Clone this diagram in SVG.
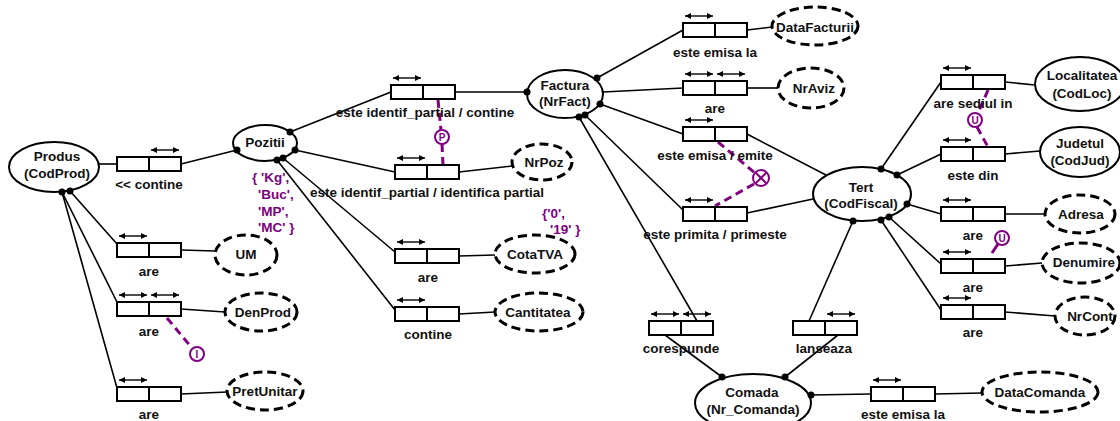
<svg xmlns="http://www.w3.org/2000/svg" width="1120" height="421" viewBox="0 0 1120 421">
<defs>
<marker id="ah" viewBox="0 0 8 8" refX="8" refY="4" markerWidth="6" markerHeight="6" markerUnits="userSpaceOnUse" orient="auto-start-reverse"><path d="M0,0 L8,4 L0,8 z" fill="#000"/></marker>
<style>
.ent{fill:#fff;stroke:#000;stroke-width:2}
.val{fill:#fff;stroke:#000;stroke-width:3;stroke-dasharray:9 5}
.box{fill:#fff;stroke:#000;stroke-width:2}
.ln{stroke:#000;stroke-width:1.6;fill:none}
.uq{stroke:#000;stroke-width:1.4;marker-start:url(#ah);marker-end:url(#ah)}
.dot{fill:#000}
.t{font-family:"Liberation Sans",Arial,sans-serif;font-weight:bold;font-size:13.5px;fill:#111;text-anchor:middle}
.pt{font-family:"Liberation Sans",Arial,sans-serif;font-weight:bold;font-size:13.5px;fill:#800080}
.cons{stroke:#800080;stroke-width:3;stroke-dasharray:8 5;fill:none}
.cc{fill:#fff;stroke:#800080;stroke-width:2}
.ct{font-family:"Liberation Sans",Arial,sans-serif;font-weight:bold;font-size:10px;fill:#800080;text-anchor:middle}
</style>
</defs>

<g id="connectors">
<line class="ln" x1="99" y1="164" x2="117" y2="164"/>
<line class="ln" x1="181" y1="164" x2="237" y2="150"/>
<line class="ln" x1="62" y1="192" x2="117" y2="388"/>
<line class="ln" x1="62" y1="192" x2="117" y2="302"/>
<line class="ln" x1="70" y1="191" x2="117" y2="244"/>
<line class="ln" x1="181" y1="250" x2="215" y2="251"/>
<line class="ln" x1="181" y1="309" x2="225" y2="312"/>
<line class="ln" x1="181" y1="394" x2="227" y2="392"/>
<line class="ln" x1="290" y1="132" x2="391" y2="92"/>
<line class="ln" x1="295" y1="150" x2="395" y2="172"/>
<line class="ln" x1="283" y1="158" x2="395" y2="252"/>
<line class="ln" x1="277" y1="160" x2="395" y2="310"/>
<line class="ln" x1="455" y1="92" x2="527" y2="92"/>
<line class="ln" x1="459" y1="172" x2="512" y2="166"/>
<line class="ln" x1="459" y1="256" x2="495" y2="255"/>
<line class="ln" x1="459" y1="314" x2="495" y2="312"/>
<line class="ln" x1="597" y1="78" x2="683" y2="30"/>
<line class="ln" x1="603" y1="92" x2="683" y2="88"/>
<line class="ln" x1="600" y1="104" x2="683" y2="134"/>
<line class="ln" x1="585" y1="115" x2="683" y2="210"/>
<line class="ln" x1="579" y1="117" x2="697" y2="321"/>
<line class="ln" x1="747" y1="30" x2="772" y2="27"/>
<line class="ln" x1="747" y1="88" x2="778" y2="88"/>
<line class="ln" x1="747" y1="134" x2="826" y2="175"/>
<line class="ln" x1="747" y1="213" x2="813" y2="199"/>
<line class="ln" x1="881" y1="169" x2="941" y2="82"/>
<line class="ln" x1="897" y1="175" x2="941" y2="154"/>
<line class="ln" x1="907" y1="204" x2="941" y2="214"/>
<line class="ln" x1="889" y1="217" x2="941" y2="264"/>
<line class="ln" x1="881" y1="220" x2="941" y2="310"/>
<line class="ln" x1="853" y1="221" x2="809" y2="321"/>
<line class="ln" x1="838" y1="335" x2="785" y2="377"/>
<line class="ln" x1="665" y1="335" x2="722" y2="377"/>
<line class="ln" x1="811" y1="395" x2="871" y2="394"/>
<line class="ln" x1="935" y1="394" x2="982" y2="393"/>
<line class="ln" x1="1005" y1="82" x2="1035" y2="85"/>
<line class="ln" x1="1005" y1="154" x2="1040" y2="151"/>
<line class="ln" x1="1005" y1="214" x2="1045" y2="214"/>
<line class="ln" x1="1005" y1="266" x2="1042" y2="263"/>
<line class="ln" x1="1005" y1="312" x2="1055" y2="316"/>
</g>

<g id="constraints">
<line class="cons" x1="438" y1="100" x2="441" y2="130"/>
<line class="cons" x1="442" y1="144" x2="443" y2="165"/>
<circle class="cc" cx="442" cy="137" r="7"/>
<text class="ct" x="442" y="141">P</text>
<line class="cons" x1="167" y1="318" x2="192" y2="348"/>
<circle class="cc" cx="197" cy="354" r="7"/>
<text class="ct" x="197" y="358">I</text>
<line class="cons" x1="718" y1="142" x2="755" y2="173"/>
<line class="cons" x1="754" y1="184" x2="715" y2="206"/>
<circle class="cc" cx="761" cy="178" r="8"/>
<line x1="755.5" y1="172.5" x2="766.5" y2="183.5" stroke="#800080" stroke-width="2"/>
<line x1="766.5" y1="172.5" x2="755.5" y2="183.5" stroke="#800080" stroke-width="2"/>
<line class="cons" x1="988" y1="90" x2="978" y2="113"/>
<line class="cons" x1="977" y1="127" x2="988" y2="147"/>
<circle class="cc" cx="975" cy="120" r="7"/>
<text class="ct" x="975" y="124">U</text>
<line x1="992" y1="253" x2="998" y2="244" stroke="#800080" stroke-width="3"/>
<circle class="cc" cx="1002" cy="238" r="7"/>
<text class="ct" x="1002" y="242">U</text>
<text class="pt" x="252" y="182">{ 'Kg',</text>
<text class="pt" x="258" y="199">'Buc',</text>
<text class="pt" x="258" y="216">'MP',</text>
<text class="pt" x="258" y="232">'MC' }</text>
<text class="pt" x="542" y="218">{'0',</text>
<text class="pt" x="550" y="234">'19' }</text>
</g>

<g id="Produs"><ellipse class="ent" cx="54" cy="167" rx="45" ry="25"/><text class="t" x="57" y="161">Produs</text><text class="t" x="57" y="178">(CodProd)</text><circle class="dot" cx="62" cy="192" r="3.5"/><circle class="dot" cx="70" cy="191" r="3.5"/></g>
<g id="Pozitii"><ellipse class="ent" cx="265" cy="143" rx="32" ry="18"/><text class="t" x="265" y="147">Pozitii</text><circle class="dot" cx="237" cy="150" r="3.5"/><circle class="dot" cx="290" cy="132" r="3.5"/><circle class="dot" cx="295" cy="150" r="3.5"/><circle class="dot" cx="283" cy="158" r="3.5"/><circle class="dot" cx="277" cy="160" r="3.5"/></g>
<g id="Factura"><ellipse class="ent" cx="565" cy="94" rx="38" ry="24"/><text class="t" x="565" y="90">Factura</text><text class="t" x="565" y="106">(NrFact)</text><circle class="dot" cx="527" cy="92" r="3.5"/><circle class="dot" cx="597" cy="78" r="3.5"/><circle class="dot" cx="600" cy="104" r="3.5"/><circle class="dot" cx="585" cy="115" r="3.5"/><circle class="dot" cx="579" cy="117" r="3.5"/></g>
<g id="Tert"><ellipse class="ent" cx="862" cy="194" rx="49" ry="27"/><text class="t" x="861" y="192">Tert</text><text class="t" x="861" y="208">(CodFiscal)</text><circle class="dot" cx="881" cy="169" r="3.5"/><circle class="dot" cx="897" cy="175" r="3.5"/><circle class="dot" cx="907" cy="204" r="3.5"/><circle class="dot" cx="889" cy="217" r="3.5"/><circle class="dot" cx="881" cy="220" r="3.5"/><circle class="dot" cx="853" cy="221" r="3.5"/></g>
<g id="Comada"><ellipse class="ent" cx="753" cy="403" rx="58" ry="29"/><text class="t" x="752" y="397">Comada</text><text class="t" x="753" y="414">(Nr_Comanda)</text><circle class="dot" cx="722" cy="377" r="3.5"/><circle class="dot" cx="785" cy="377" r="3.5"/><circle class="dot" cx="811" cy="395" r="3.5"/></g>
<g id="Localitatea"><ellipse class="ent" cx="1080" cy="84" rx="45" ry="27"/><text class="t" x="1082" y="80">Localitatea</text><text class="t" x="1082" y="98">(CodLoc)</text></g>
<g id="Judetul"><ellipse class="ent" cx="1080" cy="152" rx="40" ry="25"/><text class="t" x="1080" y="148">Judetul</text><text class="t" x="1080" y="165">(CodJud)</text></g>

<g id="UM"><ellipse class="val" cx="246" cy="255" rx="31" ry="20"/><text class="t" x="246" y="259">UM</text></g>
<g id="DenProd"><ellipse class="val" cx="261" cy="312" rx="36" ry="19"/><text class="t" x="263" y="317">DenProd</text></g>
<g id="PretUnitar"><ellipse class="val" cx="265" cy="391" rx="38" ry="19"/><text class="t" x="265" y="396">PretUnitar</text></g>
<g id="NrPoz"><ellipse class="val" cx="542" cy="162" rx="30" ry="18"/><text class="t" x="544" y="167">NrPoz</text></g>
<g id="CotaTVA"><ellipse class="val" cx="535" cy="254" rx="40" ry="19"/><text class="t" x="535" y="259">CotaTVA</text></g>
<g id="Cantitatea"><ellipse class="val" cx="539" cy="312" rx="44" ry="19"/><text class="t" x="538" y="317">Cantitatea</text></g>
<g id="DataFacturii"><ellipse class="val" cx="815" cy="26" rx="43" ry="19"/><text class="t" x="815" y="32">DataFacturii</text></g>
<g id="NrAviz"><ellipse class="val" cx="811" cy="88" rx="33" ry="20"/><text class="t" x="814" y="93">NrAviz</text></g>
<g id="Adresa"><ellipse class="val" cx="1080" cy="214" rx="35" ry="19"/><text class="t" x="1081" y="219">Adresa</text></g>
<g id="Denumire"><ellipse class="val" cx="1081" cy="263" rx="39" ry="20"/><text class="t" x="1084" y="267">Denumire</text></g>
<g id="NrCont"><ellipse class="val" cx="1085" cy="316" rx="30" ry="19"/><text class="t" x="1090" y="321">NrCont</text></g>
<g id="DataComanda"><ellipse class="val" cx="1040" cy="392" rx="58" ry="20"/><text class="t" x="1040" y="397">DataComanda</text></g>

<g id="f_contine"><rect class="box" x="117" y="157" width="32" height="14"/><rect class="box" x="149" y="157" width="32" height="14"/><line class="uq" x1="151" y1="150" x2="179" y2="150"/><text class="t" x="149" y="189">&lt;&lt; contine</text></g>
<g id="f_um"><rect class="box" x="117" y="243" width="32" height="14"/><rect class="box" x="149" y="243" width="32" height="14"/><line class="uq" x1="119" y1="236" x2="147" y2="236"/><text class="t" x="149" y="276">are</text></g>
<g id="f_denprod"><rect class="box" x="117" y="302" width="32" height="14"/><rect class="box" x="149" y="302" width="32" height="14"/><line class="uq" x1="119" y1="295" x2="147" y2="295"/><line class="uq" x1="151" y1="295" x2="179" y2="295"/><text class="t" x="149" y="336">are</text></g>
<g id="f_pret"><rect class="box" x="117" y="387" width="32" height="14"/><rect class="box" x="149" y="387" width="32" height="14"/><line class="uq" x1="119" y1="380" x2="147" y2="380"/><text class="t" x="149" y="419">are</text></g>
<g id="f_identif1"><rect class="box" x="391" y="85" width="32" height="14"/><rect class="box" x="423" y="85" width="32" height="14"/><line class="uq" x1="393" y1="78" x2="421" y2="78"/><text class="t" x="425" y="117">este identif_partial / contine</text></g>
<g id="f_identif2"><rect class="box" x="395" y="165" width="32" height="14"/><rect class="box" x="427" y="165" width="32" height="14"/><line class="uq" x1="397" y1="158" x2="425" y2="158"/><text class="t" x="427" y="197">este identif_partial / identifica partial</text></g>
<g id="f_cota"><rect class="box" x="395" y="249" width="32" height="14"/><rect class="box" x="427" y="249" width="32" height="14"/><line class="uq" x1="397" y1="242" x2="425" y2="242"/><text class="t" x="428" y="282">are</text></g>
<g id="f_cant"><rect class="box" x="395" y="307" width="32" height="14"/><rect class="box" x="427" y="307" width="32" height="14"/><line class="uq" x1="397" y1="300" x2="425" y2="300"/><text class="t" x="428" y="339">contine</text></g>
<g id="f_datafact"><rect class="box" x="683" y="23" width="32" height="14"/><rect class="box" x="715" y="23" width="32" height="14"/><line class="uq" x1="685" y1="16" x2="713" y2="16"/><text class="t" x="715" y="57">este emisa la</text></g>
<g id="f_aviz"><rect class="box" x="683" y="81" width="32" height="14"/><rect class="box" x="715" y="81" width="32" height="14"/><line class="uq" x1="685" y1="74" x2="713" y2="74"/><line class="uq" x1="717" y1="74" x2="745" y2="74"/><text class="t" x="715" y="113">are</text></g>
<g id="f_emite"><rect class="box" x="683" y="127" width="32" height="14"/><rect class="box" x="715" y="127" width="32" height="14"/><line class="uq" x1="685" y1="120" x2="713" y2="120"/><text class="t" x="715" y="160">este emisa / emite</text></g>
<g id="f_primeste"><rect class="box" x="683" y="207" width="32" height="14"/><rect class="box" x="715" y="207" width="32" height="14"/><line class="uq" x1="685" y1="200" x2="713" y2="200"/><text class="t" x="715" y="239">este primita / primeste</text></g>
<g id="f_corespunde"><rect class="box" x="649" y="321" width="32" height="14"/><rect class="box" x="681" y="321" width="32" height="14"/><line class="uq" x1="651" y1="314" x2="679" y2="314"/><line class="uq" x1="683" y1="314" x2="711" y2="314"/><text class="t" x="681" y="353">corespunde</text></g>
<g id="f_lanseaza"><rect class="box" x="793" y="321" width="32" height="14"/><rect class="box" x="825" y="321" width="32" height="14"/><line class="uq" x1="827" y1="314" x2="855" y2="314"/><text class="t" x="824" y="353">lanseaza</text></g>
<g id="f_datacom"><rect class="box" x="871" y="387" width="32" height="14"/><rect class="box" x="903" y="387" width="32" height="14"/><line class="uq" x1="873" y1="380" x2="901" y2="380"/><text class="t" x="903" y="419">este emisa la</text></g>
<g id="f_sediul"><rect class="box" x="941" y="75" width="32" height="14"/><rect class="box" x="973" y="75" width="32" height="14"/><line class="uq" x1="943" y1="68" x2="971" y2="68"/><text class="t" x="973" y="108">are sediul in</text></g>
<g id="f_din"><rect class="box" x="941" y="147" width="32" height="14"/><rect class="box" x="973" y="147" width="32" height="14"/><line class="uq" x1="943" y1="140" x2="971" y2="140"/><text class="t" x="973" y="180">este din</text></g>
<g id="f_adresa"><rect class="box" x="941" y="207" width="32" height="14"/><rect class="box" x="973" y="207" width="32" height="14"/><line class="uq" x1="943" y1="200" x2="971" y2="200"/><text class="t" x="973" y="240">are</text></g>
<g id="f_denumire"><rect class="box" x="941" y="259" width="32" height="14"/><rect class="box" x="973" y="259" width="32" height="14"/><line class="uq" x1="943" y1="252" x2="971" y2="252"/><text class="t" x="973" y="292">are</text></g>
<g id="f_nrcont"><rect class="box" x="941" y="305" width="32" height="14"/><rect class="box" x="973" y="305" width="32" height="14"/><line class="uq" x1="943" y1="298" x2="971" y2="298"/><text class="t" x="973" y="337">are</text></g>
</svg>
